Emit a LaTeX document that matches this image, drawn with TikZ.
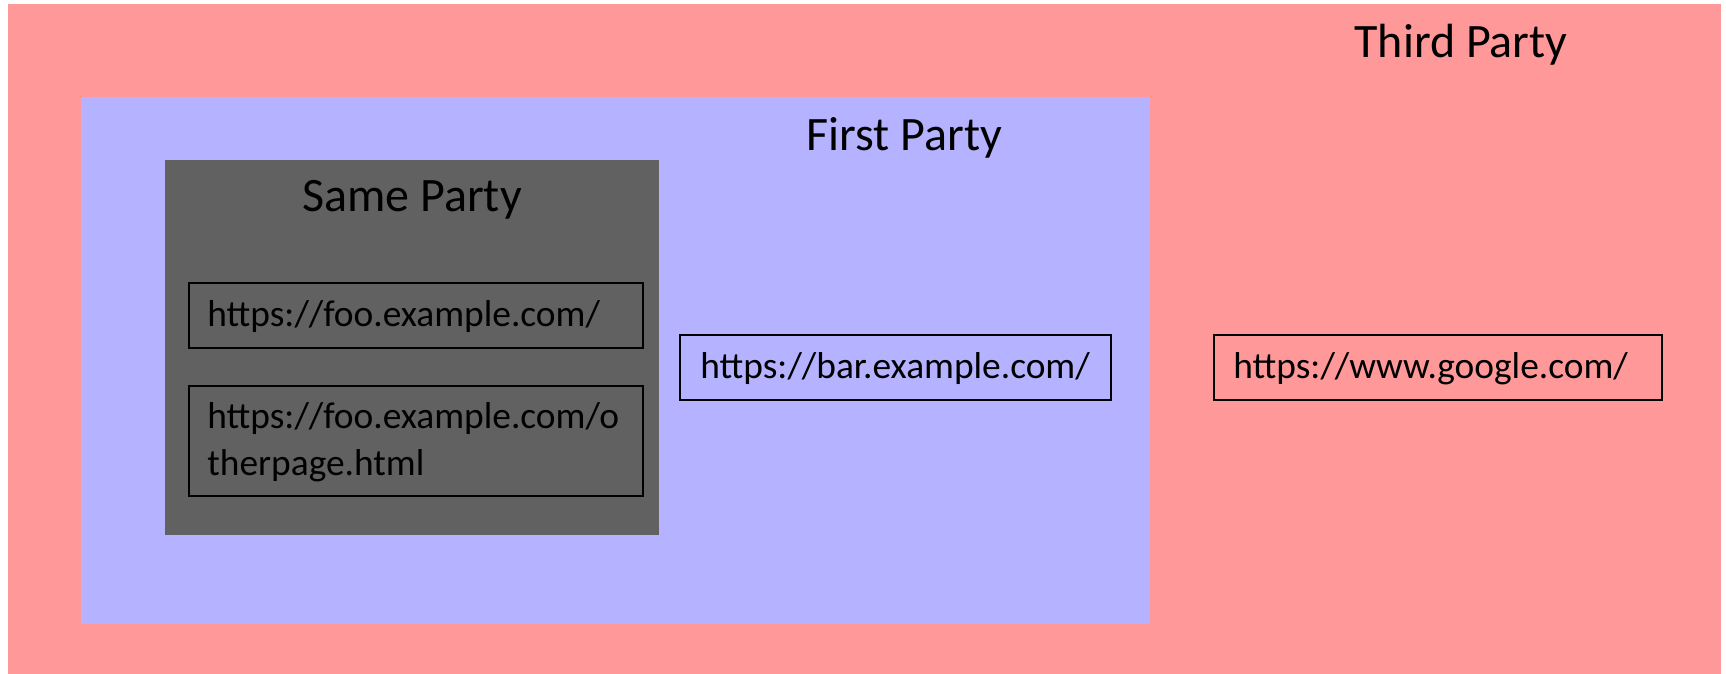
\documentclass[tikz,border=0pt]{standalone}
\usepackage{fontspec}
\setmainfont{Carlito}
\definecolor{thirdpink}{RGB}{255,153,153}
\definecolor{firstblue}{RGB}{181,178,255}
\definecolor{samegray}{RGB}{97,97,97}

\begin{document}
\begin{tikzpicture}[x=0.5pt,y=-0.5pt,
  urlbox/.style={draw=black, line width=0.7pt},
  title/.style={anchor=base, inner sep=0pt, font=\fontsize{24}{29}\selectfont},
  url/.style={anchor=base west, inner sep=0pt, font=\fontsize{18.7}{23.5}\selectfont}]
\useasboundingbox (0,0) rectangle (1726,674);

% nested party regions
\fill[thirdpink] (8,4) rectangle (1721,674);
\fill[firstblue] (81,97) rectangle (1150,624);
\fill[samegray] (165,160) rectangle (659,535);

% URL frames
\draw[urlbox] (189,283) rectangle (643,348);
\draw[urlbox] (189,386) rectangle (643,496);
\draw[urlbox] (680,335) rectangle (1111,400);
\draw[urlbox] (1214,335) rectangle (1662,400);

% region titles
\node[title] (third) at (1461,58) {Third Party};
\node[title] (first) at (904.5,151) {First Party};
\node[title] (same) at (412,212) {Same Party};

% URLs
\node[url] (foo) at (207,326) {https://foo.example.com/};
\node[url] (otherA) at (207,428) {https://foo.example.com/o};
\node[url] (otherB) at (207,475) {therpage.html};
\node[url] (bar) at (700,378) {https://bar.example.com/};
\node[url] (google) at (1233,378) {https://www.google.com/};
\end{tikzpicture}
\end{document}
